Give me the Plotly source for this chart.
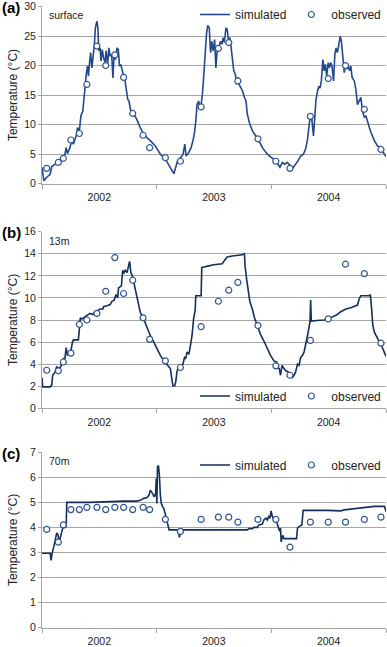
import pandas as pd
import plotly.graph_objects as go

# ---------------- data (day offsets from 2002-01-01) ----------------
surf_days = [0, 6, 15, 26, 31, 42, 52, 63, 73, 77, 81, 89, 95, 100, 109, 113, 119, 124, 130, 134,
             138, 141, 145, 148, 151, 155, 159, 164, 167, 170, 175, 178, 181, 185, 188, 192, 196, 201,
             204, 209, 213, 217, 222, 226, 230, 234, 239, 243, 247, 251, 256, 260, 264, 268, 273, 277,
             283, 292, 302, 313, 324, 334, 345, 361, 377, 393, 404, 411, 420, 425, 432, 441, 449, 455,
             459, 468, 475, 481, 486, 490, 494, 499, 503, 507, 511, 515, 520, 524, 528, 533, 537, 541,
             545, 550, 554, 558, 563, 569, 573, 577, 581, 586, 590, 594, 599, 603, 607, 611, 616, 620,
             624, 628, 633, 639, 645, 650, 654, 662, 671, 681, 691, 702, 718, 734, 744, 752, 758, 766,
             773, 782, 792, 801, 808, 816, 824, 833, 840, 846, 852, 858, 865, 869, 873, 878, 882, 886,
             890, 895, 899, 903, 907, 912, 916, 920, 924, 929, 933, 937, 941, 946, 950, 954, 959, 963,
             967, 971, 976, 980, 984, 988, 995, 1000, 1005, 1011, 1016, 1021, 1027, 1032, 1037, 1043,
             1048, 1059, 1069, 1080, 1091, 1096]
surf_sim = [2.8, 0.5, 1.1, 1.6, 2.9, 3.3, 3.8, 4.05, 5.0, 6.1, 5.1, 6.1, 7.3, 6.7, 8.1, 9.5, 8.9, 11.5,
            12.3, 15.1, 16.8, 18.5, 19.9, 18.2, 20.2, 22.2, 19.6, 21.9, 23.6, 26.4, 27.5, 26.4, 22.5,
            23.0, 20.8, 22.7, 21.3, 20.5, 22.5, 20.2, 23.0, 21.6, 21.9, 17.9, 22.2, 21.0, 23.0, 22.7,
            19.9, 20.2, 18.8, 18.2, 17.7, 16.3, 14.3, 14.0, 12.3, 11.8, 10.9, 9.5, 8.4, 7.8, 7.3, 6.4,
            5.0, 4.2, 3.3, 2.5, 1.7, 2.8, 3.9, 4.4, 4.9, 6.7, 4.7, 5.3, 6.1, 7.3, 8.7, 10.6, 13.4, 14.0,
            12.9, 13.4, 15.1, 18.0, 22.5, 25.3, 26.8, 26.4, 22.2, 24.1, 22.5, 24.4, 19.6, 22.5, 23.0,
            24.1, 23.6, 24.7, 23.9, 26.4, 26.1, 24.4, 24.7, 22.5, 21.6, 19.1, 18.5, 16.8, 18.0, 16.8,
            16.3, 15.7, 14.6, 14.0, 11.8, 10.1, 8.9, 8.1, 7.3, 6.1, 5.0, 4.3, 4.0, 3.3, 2.8, 3.6, 3.3,
            3.6, 3.0, 2.8, 3.3, 3.9, 4.7, 5.0, 5.9, 7.5, 10.4, 11.8, 8.1, 10.6, 14.3, 15.7, 16.5, 16.2,
            17.4, 21.0, 19.1, 20.2, 18.2, 20.5, 19.6, 20.5, 19.9, 17.4, 21.9, 23.0, 22.2, 23.6, 25.0,
            24.1, 21.3, 18.8, 20.2, 19.4, 19.9, 19.1, 19.9, 18.0, 17.4, 16.0, 13.4, 14.0, 14.6, 12.3,
            11.2, 11.5, 10.4, 9.5, 8.7, 7.3, 6.4, 5.9, 5.0, 4.6]

obs_days = [15, 52, 68, 92, 119, 143, 175, 203, 232, 260, 289, 322, 343, 393, 441, 507, 562, 595,
            624, 688, 745, 790, 855, 912, 967, 1027, 1080]
surf_obs = [2.6, 3.6, 4.3, 7.4, 8.5, 16.8, 23.3, 20.0, 21.8, 18.0, 11.9, 8.2, 6.1, 4.4, 3.8, 13.0,
            22.9, 23.9, 17.4, 7.6, 3.8, 2.6, 11.4, 17.8, 20.0, 12.6, 5.8]

m13_days = [0, 2, 26, 31, 34, 42, 47, 52, 58, 63, 68, 73, 77, 81, 85, 92, 97, 100, 116, 119, 122,
            127, 132, 140, 148, 153, 162, 167, 175, 185, 194, 196, 207, 217, 223, 230, 236, 241, 244,
            249, 253, 257, 260, 265, 271, 275, 279, 281, 283, 288, 294, 302, 309, 313, 324, 334, 345,
            356, 366, 377, 388, 398, 405, 409, 412, 415, 417, 423, 426, 430, 434, 441, 449, 454, 458,
            462, 468, 473, 478, 483, 488, 490, 507, 509, 521, 531, 547, 558, 574, 579, 590, 606, 622,
            638, 645, 647, 652, 658, 662, 670, 677, 686, 696, 707, 718, 728, 739, 748, 752, 756, 760,
            765, 771, 777, 784, 790, 798, 803, 808, 814, 819, 824, 830, 835, 840, 846, 850, 854, 856,
            858, 877, 899, 915, 931, 941, 952, 968, 984, 1005, 1011, 1016, 1043, 1046, 1048, 1051,
            1054, 1059, 1067, 1075, 1080, 1088, 1096]
m13_sim = [2.8, 1.95, 1.95, 2.1, 3.0, 3.3, 3.8, 3.6, 3.7, 4.0, 4.5, 4.5, 5.5, 4.8, 5.1, 5.2, 6.0,
           6.2, 6.2, 7.5, 8.2, 8.1, 8.2, 8.4, 8.5, 8.6, 8.5, 8.7, 8.8, 9.0, 9.0, 9.2, 9.3, 9.4, 9.7,
           9.8, 10.3, 10.0, 10.9, 11.0, 11.1, 12.5, 12.2, 12.5, 12.3, 12.8, 13.3, 12.9, 12.3, 12.0,
           11.2, 10.2, 9.3, 8.7, 8.1, 7.3, 6.6, 6.0, 5.4, 4.8, 4.3, 4.0, 3.8, 3.6, 3.0, 2.4, 2.05,
           2.05, 2.4, 3.3, 3.7, 3.9, 4.0, 4.6, 4.5, 5.1, 4.9, 5.7, 6.6, 8.1, 8.9, 10.2, 10.2, 12.75,
           12.8, 12.9, 13.0, 13.05, 13.1, 13.3, 13.7, 13.8, 13.85, 13.9, 14.0, 12.9, 11.7, 10.6, 9.7,
           9.0, 8.2, 7.5, 6.7, 6.1, 5.4, 4.8, 4.3, 4.2, 3.7, 3.6, 3.0, 3.9, 3.6, 3.4, 3.3, 3.1, 2.8,
           3.0, 3.3, 4.0, 3.9, 4.6, 4.8, 5.1, 5.7, 6.6, 7.2, 7.9, 9.8, 7.9, 7.95, 8.0, 8.15, 8.4,
           8.5, 8.75, 9.0, 9.1, 9.35, 9.95, 10.2, 10.2, 10.3, 9.8, 8.7, 7.5, 6.9, 6.4, 6.0, 5.8, 5.2,
           4.7]
m13_obs = [3.45, 3.4, 4.2, 5.0, 7.6, 8.0, 8.6, 10.6, 13.65, 10.4, 11.6, 8.2, 6.25, 4.3, 3.7, 7.4,
           9.7, 10.7, 11.4, 7.5, 3.85, 3.0, 6.15, 8.1, 13.05, 12.2, 5.9]

m70_days = [0, 26, 29, 32, 38, 43, 47, 51, 54, 58, 62, 66, 70, 73, 77, 79, 153, 207, 260, 302, 313,
            324, 334, 341, 345, 349, 354, 358, 362, 364, 366, 368, 371, 374, 377, 380, 384, 388, 392,
            396, 400, 405, 420, 434, 438, 441, 445, 449, 526, 633, 654, 660, 670, 675, 686, 691, 702,
            707, 713, 718, 722, 726, 730, 734, 739, 744, 750, 754, 757, 760, 762, 767, 771, 811, 814,
            819, 824, 828, 832, 909, 952, 963, 995, 1027, 1059, 1091, 1096]
m70_sim = [2.97, 2.97, 2.68, 2.95, 3.25, 3.58, 3.78, 3.71, 3.45, 3.58, 3.78, 3.97, 4.0, 4.0, 4.04,
           5.0, 5.0, 5.03, 5.05, 5.05, 5.08, 5.16, 5.18, 5.29, 5.49, 5.42, 5.32, 5.22, 5.36, 5.95,
           4.96, 6.42, 6.47, 6.08, 5.29, 4.96, 4.83, 4.76, 4.57, 4.37, 4.17, 3.9, 3.9, 3.9, 3.6,
           3.78, 3.87, 3.9, 3.9, 3.9, 3.9, 3.95, 3.95, 4.0, 4.0, 4.1, 4.13, 4.3, 4.37, 4.3, 4.43,
           4.37, 4.66, 4.43, 4.3, 4.37, 4.17, 3.97, 3.84, 3.97, 3.42, 3.68, 3.55, 3.55, 3.97, 4.04,
           4.08, 4.1, 4.68, 4.68, 4.66, 4.7, 4.74, 4.79, 4.84, 4.84, 4.63]
m70_obs = [3.92, 3.41, 4.1, 4.71, 4.71, 4.8, 4.8, 4.71, 4.8, 4.8, 4.71, 4.8, 4.71, 4.32, 3.84, 4.32,
           4.41, 4.41, 4.21, 4.32, 4.32, 3.21, 4.21, 4.21, 4.21, 4.32, 4.41]

panel_letters = ["(a)", "(b)", "(c)"]
depth_labels = ["surface", "13m", "70m"]
y_maxes = [30, 16, 7]
y_steps = [5, 2, 1]

# ---------------- helpers ----------------
start = pd.Timestamp("2002-01-01")


def to_dates(days):
    return start + pd.to_timedelta(days, unit="D")


W, H = 387, 647
X0, X1 = 42, 386
panel_px = [(5.5, 183.0), (231.0, 408.0), (452.0, 627.5)]  # top, bottom in px

line_colors = ["#21498c", "#142e5e", "#142e5e"]
marker_col = "#2f5597"
grid_col = "#a6a6a6"
font_fam = "Liberation Sans, Arial, sans-serif"

series = [
    (surf_days, surf_sim, surf_obs),
    (m13_days, m13_sim, m13_obs),
    (m70_days, m70_sim, m70_obs),
]

legend_pos = [(386, 14), (386, 396), (386, 465)]

fig = go.Figure()
layout = dict(
    width=W, height=H,
    margin=dict(l=0, r=0, t=0, b=0),
    paper_bgcolor="white", plot_bgcolor="white",
    font=dict(family=font_fam, size=10, color="#222222"),
    annotations=[],
)

for i, (days, sim, obs) in enumerate(series):
    n = "" if i == 0 else str(i + 1)
    xa, ya = "x" + n, "y" + n
    lg = "legend" + n
    fig.add_trace(go.Scatter(
        x=to_dates(days), y=sim, mode="lines", name="simulated",
        line=dict(color=line_colors[i], width=1.6),
        xaxis=xa, yaxis=ya, legend=lg,
    ))
    fig.add_trace(go.Scatter(
        x=to_dates(obs_days), y=obs, mode="markers", name="observed",
        marker=dict(symbol="circle", size=6, color="white",
                    line=dict(color=marker_col, width=1.2)),
        xaxis=xa, yaxis=ya, legend=lg,
    ))
    top, bot = panel_px[i]
    dom_y = [1 - bot / H, 1 - top / H]
    layout["xaxis" + n] = dict(
        domain=[X0 / W, X1 / W], anchor=ya, type="date",
        range=["2002-01-01", "2005-01-01"],
        tick0="2002-01-01", dtick="M12", tickformat="%Y", ticklabelmode="period",
        ticks="outside", ticklen=4, tickcolor=grid_col, tickwidth=1,
        showgrid=False, showline=True, linecolor=grid_col, linewidth=1,
        zeroline=False, tickfont=dict(size=10.5, color="#222222"),
        automargin=False,
    )
    layout["yaxis" + n] = dict(
        domain=dom_y, anchor=xa, range=[0, y_maxes[i]], dtick=y_steps[i], tick0=0,
        ticks="outside", ticklen=3, tickcolor=grid_col,
        showgrid=True, gridcolor=grid_col, gridwidth=1,
        showline=True, linecolor=grid_col, linewidth=1, zeroline=False,
        tickfont=dict(size=10.5, color="#222222"), automargin=False,
    )
    lx, ly = legend_pos[i]
    layout[lg] = dict(
        orientation="h", x=lx / W, y=1 - ly / H, xanchor="right", yanchor="middle",
        bgcolor="rgba(0,0,0,0)", font=dict(size=12, color="#222222"),
        itemwidth=30, tracegroupgap=0,
    )
    # panel letter
    layout["annotations"].append(dict(
        text="<b>" + panel_letters[i] + "</b>", x=0, y=1 - (top + 1) / H,
        xref="paper", yref="paper", xanchor="left", yanchor="middle",
        showarrow=False, font=dict(size=15, color="black"),
    ))
    # depth label
    layout["annotations"].append(dict(
        text=depth_labels[i], x=47 / W, y=1 - (top + 9) / H,
        xref="paper", yref="paper", xanchor="left", yanchor="middle",
        showarrow=False, font=dict(size=10.5, color="#222222"),
    ))
    # y title
    layout["annotations"].append(dict(
        text="Temperature (°C)", x=13 / W, y=1 - (top + bot) / 2 / H,
        xref="paper", yref="paper", xanchor="center", yanchor="middle",
        textangle=-90, showarrow=False, font=dict(size=12, color="#222222"),
    ))

fig.update_layout(**layout)
fig.write_html(
    "out.html",
    config={"displayModeBar": False},
    post_script="document.body.style.margin='0';document.body.style.overflow='hidden';",
)
